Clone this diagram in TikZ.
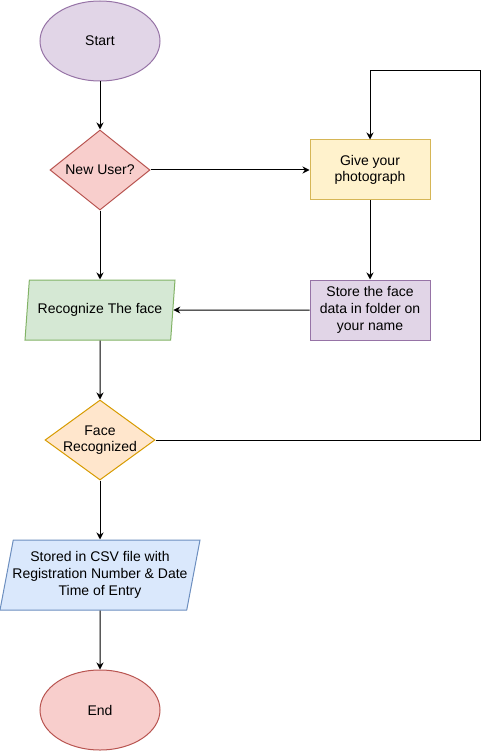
\documentclass[tikz,border=0pt]{standalone}
\usepackage{fontspec}
\setmainfont{Liberation Sans}
\usetikzlibrary{arrows.meta}
\usetikzlibrary{shapes.geometric}
\usetikzlibrary{backgrounds}

\definecolor{purpleFill}{HTML}{E1D5E7}
\definecolor{purpleLine}{HTML}{9673A6}
\definecolor{redFill}{HTML}{F8CECC}
\definecolor{redLine}{HTML}{B85450}
\definecolor{yellowFill}{HTML}{FFF2CC}
\definecolor{yellowLine}{HTML}{D6B656}
\definecolor{greenFill}{HTML}{D5E8D4}
\definecolor{greenLine}{HTML}{82B366}
\definecolor{orangeFill}{HTML}{FFE6CC}
\definecolor{orangeLine}{HTML}{D79B00}
\definecolor{blueFill}{HTML}{DAE8FC}
\definecolor{blueLine}{HTML}{6C8EBF}

\begin{document}
\begin{tikzpicture}[x=1pt, y=-1pt, line width=1pt,
	every node/.style={align=center, inner sep=0pt, font=\fontsize{14}{16.7}\selectfont},
	terminal/.style={ellipse, draw, minimum width=120pt, minimum height=80pt},
	decision/.style={diamond, draw, minimum width=100pt, minimum height=80pt, shape aspect=1.25},
	process/.style={rectangle, draw, minimum width=120pt, minimum height=60pt},
	inout/.style={trapezium, draw, trapezium stretches body, trapezium left angle=71.57, trapezium right angle=108.43, minimum height=60pt},
	arr/.style={-{Stealth[length=7pt, width=7pt]}}]
	
	\useasboundingbox (0,0) rectangle (489,751);
	
	\node[terminal, fill=purpleFill, draw=purpleLine] (start) at (100,41) {Start};
	\node[decision, fill=redFill, draw=redLine] (newuser) at (100,170) {New User?};
	\node[process, fill=yellowFill, draw=yellowLine] (photo) at (370,170) {Give your\\photograph};
	\node[process, fill=purpleFill, draw=purpleLine] (store) at (370,310) {Store the face\\data in folder on\\your name};
	\node[inout, fill=greenFill, draw=greenLine, minimum width=150pt] (recog) at (100,310) {Recognize The face};
	\node[decision, fill=orangeFill, draw=orangeLine, minimum width=110pt, shape aspect=1.375, inner sep=-4pt] (facerec) at (100,440) {Face\\Recognized};
	\node[inout, fill=blueFill, draw=blueLine, minimum width=200pt, minimum height=70pt, trapezium left angle=74.05, trapezium right angle=105.95, inner xsep=-2pt] (csv) at (100,575) {Stored in CSV file with\\Registration Number \& Date\\Time of Entry};
	\node[terminal, fill=redFill, draw=redLine] (end) at (100,710) {End};
	
	\coordinate (loopR) at (480,440);
	\coordinate (loopT) at (480,71);
	
	\draw[arr] (start) -- (newuser);
	\draw[arr] (newuser) -- (photo);
	\draw[arr] (newuser) -- (recog);
	\draw[arr] (photo) -- (store);
	\draw[arr] (store) -- (recog);
	\draw[arr] (recog) -- (facerec);
	\draw[arr] (facerec.east) -- (loopR) -- (loopT) -| (photo.north);
	\draw[arr] (facerec) -- (csv);
	\draw[arr] (csv) -- (end);
	
\end{tikzpicture}
\end{document}
